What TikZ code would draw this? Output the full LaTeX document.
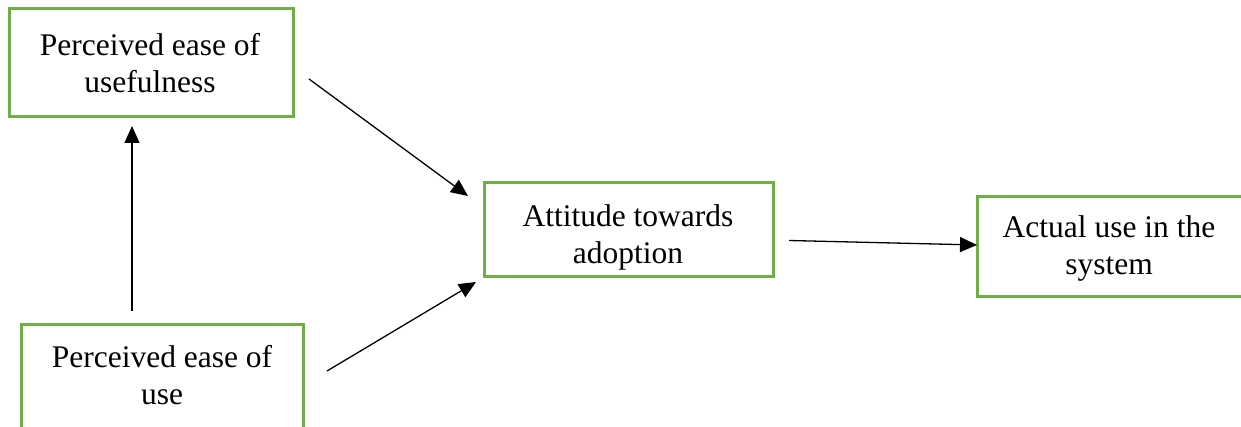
\documentclass[tikz,border=0pt]{standalone}
\usepackage{fontspec}
\setmainfont{Liberation Serif}
\usetikzlibrary{arrows.meta}
\definecolor{boxgreen}{RGB}{112,173,71}
\begin{document}
\begin{tikzpicture}[x=1pt,y=-1pt,
  box/.style={draw=boxgreen, line width=3pt, rectangle, inner sep=0pt},
  txt/.style={align=center, inner sep=0pt, anchor=base, font=\fontsize{31.5pt}{37pt}\selectfont},
  conn/.style={line width=1.3pt, -{Triangle[length=17pt,width=15pt]}}]
\useasboundingbox (0,0) rectangle (1241,427);
% boxes
\node[box, minimum width=284pt, minimum height=108pt] (b1) at (151,63) {};
\node[box, minimum width=282pt, minimum height=120pt] (b2) at (162,384) {};
\node[box, minimum width=289pt, minimum height=94pt] (b3) at (628.5,230) {};
\node[box, minimum width=268pt, minimum height=100pt] (b4) at (1111,247) {};
% texts (anchor base = last line)
\node[txt] (t1) at (150,93) {Perceived ease of\\usefulness};
\node[txt] (t2) at (162,404) {Perceived ease of\\use};
\node[txt] (t3) at (628,264) {Attitude towards\\adoption};
\node[txt] (t4) at (1109,275) {Actual use in the\\system};
% connector ends
\coordinate (v0) at (132,311);
\coordinate (v1) at (132,126);
\coordinate (a0) at (309,79);
\coordinate (a1) at (468,196);
\coordinate (c0) at (327,371);
\coordinate (c1) at (476,282);
\coordinate (d0) at (789,240.5);
\coordinate (d1) at (977,245);
\draw[conn] (v0) -- (v1);
\draw[conn] (a0) -- (a1);
\draw[conn] (c0) -- (c1);
\draw[conn] (d0) -- (d1);
\end{tikzpicture}
\end{document}
